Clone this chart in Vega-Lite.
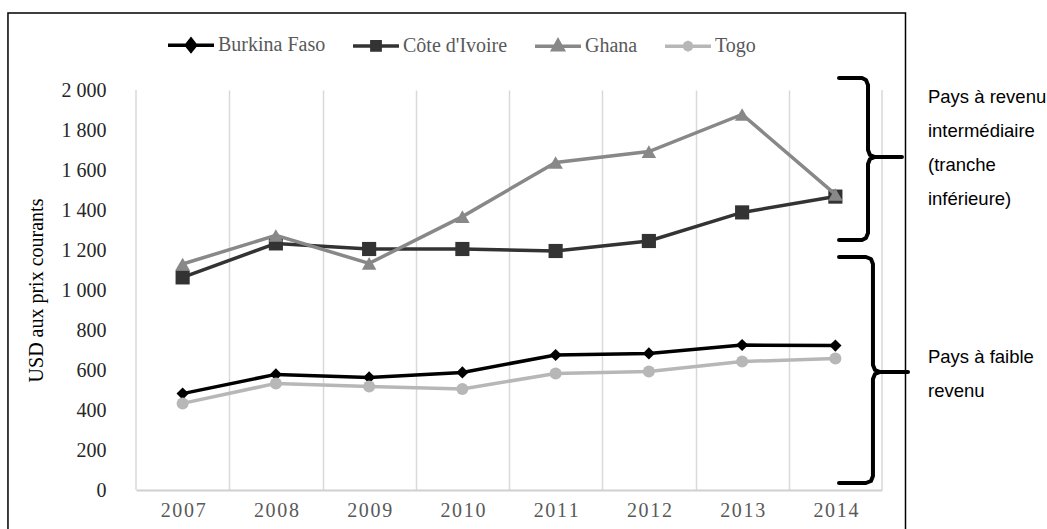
{
  "$schema": "https://vega.github.io/schema/vega-lite/v6.json",
  "autosize": "none",
  "width": 746,
  "height": 400,
  "padding": {"left": 136, "top": 90, "right": 165, "bottom": 39},
  "background": "#ffffff",
  "config": {
    "view": {"stroke": null},
    "font": "Liberation Serif"
  },
  "datasets": {
    "pib": [
      {"annee": 2007, "pays": "Burkina Faso", "usd": 482},
      {"annee": 2008, "pays": "Burkina Faso", "usd": 578},
      {"annee": 2009, "pays": "Burkina Faso", "usd": 563},
      {"annee": 2010, "pays": "Burkina Faso", "usd": 588},
      {"annee": 2011, "pays": "Burkina Faso", "usd": 675},
      {"annee": 2012, "pays": "Burkina Faso", "usd": 683},
      {"annee": 2013, "pays": "Burkina Faso", "usd": 725},
      {"annee": 2014, "pays": "Burkina Faso", "usd": 722},
      {"annee": 2007, "pays": "Côte d'Ivoire", "usd": 1063},
      {"annee": 2008, "pays": "Côte d'Ivoire", "usd": 1233},
      {"annee": 2009, "pays": "Côte d'Ivoire", "usd": 1205},
      {"annee": 2010, "pays": "Côte d'Ivoire", "usd": 1205},
      {"annee": 2011, "pays": "Côte d'Ivoire", "usd": 1195},
      {"annee": 2012, "pays": "Côte d'Ivoire", "usd": 1245},
      {"annee": 2013, "pays": "Côte d'Ivoire", "usd": 1388},
      {"annee": 2014, "pays": "Côte d'Ivoire", "usd": 1467},
      {"annee": 2007, "pays": "Ghana", "usd": 1130},
      {"annee": 2008, "pays": "Ghana", "usd": 1273},
      {"annee": 2009, "pays": "Ghana", "usd": 1133},
      {"annee": 2010, "pays": "Ghana", "usd": 1367},
      {"annee": 2011, "pays": "Ghana", "usd": 1638},
      {"annee": 2012, "pays": "Ghana", "usd": 1692},
      {"annee": 2013, "pays": "Ghana", "usd": 1878},
      {"annee": 2014, "pays": "Ghana", "usd": 1478},
      {"annee": 2007, "pays": "Togo", "usd": 433},
      {"annee": 2008, "pays": "Togo", "usd": 533},
      {"annee": 2009, "pays": "Togo", "usd": 517},
      {"annee": 2010, "pays": "Togo", "usd": 505},
      {"annee": 2011, "pays": "Togo", "usd": 583},
      {"annee": 2012, "pays": "Togo", "usd": 592},
      {"annee": 2013, "pays": "Togo", "usd": 642},
      {"annee": 2014, "pays": "Togo", "usd": 658}
    ],
    "accolades": [
      {"accolade": "intermediaire", "ordre": 1, "annee": 2014.039, "usd": 2060},
      {"accolade": "intermediaire", "ordre": 2, "annee": 2014.286, "usd": 2060},
      {"accolade": "intermediaire", "ordre": 3, "annee": 2014.328, "usd": 2050},
      {"accolade": "intermediaire", "ordre": 4, "annee": 2014.350, "usd": 2025},
      {"accolade": "intermediaire", "ordre": 5, "annee": 2014.350, "usd": 1700},
      {"accolade": "intermediaire", "ordre": 6, "annee": 2014.371, "usd": 1675},
      {"accolade": "intermediaire", "ordre": 7, "annee": 2014.425, "usd": 1665},
      {"accolade": "intermediaire", "ordre": 8, "annee": 2014.714, "usd": 1665},
      {"accolade": "intermediaire", "ordre": 9, "annee": 2014.425, "usd": 1665},
      {"accolade": "intermediaire", "ordre": 10, "annee": 2014.371, "usd": 1655},
      {"accolade": "intermediaire", "ordre": 11, "annee": 2014.350, "usd": 1630},
      {"accolade": "intermediaire", "ordre": 12, "annee": 2014.350, "usd": 1285},
      {"accolade": "intermediaire", "ordre": 13, "annee": 2014.328, "usd": 1260},
      {"accolade": "intermediaire", "ordre": 14, "annee": 2014.286, "usd": 1250},
      {"accolade": "intermediaire", "ordre": 15, "annee": 2014.039, "usd": 1250},
      {"accolade": "faible", "ordre": 1, "annee": 2014.039, "usd": 1165},
      {"accolade": "faible", "ordre": 2, "annee": 2014.328, "usd": 1165},
      {"accolade": "faible", "ordre": 3, "annee": 2014.382, "usd": 1155},
      {"accolade": "faible", "ordre": 4, "annee": 2014.403, "usd": 1130},
      {"accolade": "faible", "ordre": 5, "annee": 2014.403, "usd": 625},
      {"accolade": "faible", "ordre": 6, "annee": 2014.425, "usd": 600},
      {"accolade": "faible", "ordre": 7, "annee": 2014.479, "usd": 590},
      {"accolade": "faible", "ordre": 8, "annee": 2014.779, "usd": 590},
      {"accolade": "faible", "ordre": 9, "annee": 2014.479, "usd": 590},
      {"accolade": "faible", "ordre": 10, "annee": 2014.425, "usd": 580},
      {"accolade": "faible", "ordre": 11, "annee": 2014.403, "usd": 555},
      {"accolade": "faible", "ordre": 12, "annee": 2014.403, "usd": 70},
      {"accolade": "faible", "ordre": 13, "annee": 2014.382, "usd": 45},
      {"accolade": "faible", "ordre": 14, "annee": 2014.328, "usd": 35},
      {"accolade": "faible", "ordre": 15, "annee": 2014.039, "usd": 35}
    ],
    "groupes": [
      {"annee": 2014.993, "usd": 1935, "libelle": "Pays à revenu\nintermédiaire\n(tranche\ninférieure)"},
      {"annee": 2014.993, "usd": 635, "libelle": "Pays à faible\nrevenu"}
    ]
  },
  "layer": [
    {
      "data": {"name": "pib"},
      "transform": [{"filter": "datum.pays === 'Burkina Faso'"}],
      "mark": {"type": "line", "strokeWidth": 3.5, "color": "#000000", "point": {"shape": "diamond", "filled": true, "opacity": 1, "size": 150, "color": "#000000"}},
      "encoding": {
        "x": {
          "field": "annee",
          "type": "quantitative",
          "scale": {"domain": [2006.5, 2014.5], "nice": false, "zero": false},
          "axis": {
            "title": null,
            "values": [2007, 2007.5, 2008, 2008.5, 2009, 2009.5, 2010, 2010.5, 2011, 2011.5, 2012, 2012.5, 2013, 2013.5, 2014],
            "tickCount": 40,
            "labelExpr": "datum.value % 1 === 0 ? substring(datum.label, 0, 1) + '\u200a' + substring(datum.label, 1, 2) + '\u200a' + substring(datum.label, 2, 3) + '\u200a' + substring(datum.label, 3, 4) : ''",
            "format": "04d",
            "labelOverlap": false,
            "labelFlush": false,
            "labelBound": false,
            "labelFont": "Liberation Serif",
            "labelFontSize": 20,
            "labelColor": "#595959",
            "labelPadding": 10,
            "ticks": false,
            "grid": true,
            "gridColor": "#d9d9d9",
            "gridWidth": 1.5,
            "gridOpacity": {"condition": {"test": "datum.value % 1 === 0", "value": 0}, "value": 1},
            "domainColor": "#d0d0d0",
            "domainWidth": 2
          }
        },
        "y": {
          "field": "usd",
          "type": "quantitative",
          "scale": {"domain": [0, 2000], "nice": false},
          "axis": {
            "title": "USD aux prix courants",
            "titleFont": "Liberation Serif",
            "titleFontSize": 20,
            "titleFontWeight": "normal",
            "titleColor": "#000000",
            "titlePadding": 15,
            "values": [0, 200, 400, 600, 800, 1000, 1200, 1400, 1600, 1800, 2000],
            "tickCount": 20,
            "labelExpr": "replace(format(datum.value, ','), ',', ' ')",
            "labelOverlap": false,
            "labelFont": "Liberation Serif",
            "labelFontSize": 20,
            "labelColor": "#262626",
            "labelPadding": 30,
            "ticks": false,
            "domain": false,
            "grid": false
          }
        }
      }
    },
    {
      "data": {"values": [{"bord": "gauche"}]},
      "mark": {"type": "rule", "color": "#d9d9d9", "strokeWidth": 1.5},
      "encoding": {
        "x": {"datum": 2006.5, "type": "quantitative", "title": null},
        "y": {"datum": 0, "type": "quantitative", "title": "USD aux prix courants"},
        "y2": {"datum": 2000}
      }
    },
    {
      "data": {"values": [{"bord": "droite"}]},
      "mark": {"type": "rule", "color": "#d9d9d9", "strokeWidth": 1.5},
      "encoding": {
        "x": {"datum": 2014.5, "type": "quantitative", "title": null},
        "y": {"datum": 0, "type": "quantitative", "title": "USD aux prix courants"},
        "y2": {"datum": 2000}
      }
    },
    {
      "data": {"values": [{"cadre": "bordure"}]},
      "mark": {"type": "rect", "filled": false, "color": "#000000", "strokeWidth": 1.5},
      "encoding": {
        "x": {"datum": 2005.127, "type": "quantitative", "title": null},
        "x2": {"datum": 2014.752},
        "y": {"datum": 2385, "type": "quantitative", "title": "USD aux prix courants"},
        "y2": {"datum": -300}
      }
    },
    {
      "data": {"name": "pib"},
      "transform": [{"filter": "datum.pays === \"Côte d'Ivoire\""}],
      "mark": {"type": "line", "strokeWidth": 3.5, "color": "#333333", "point": {"shape": "square", "filled": true, "opacity": 1, "size": 200, "color": "#333333"}},
      "encoding": {
        "x": {"field": "annee", "type": "quantitative", "title": null},
        "y": {"field": "usd", "type": "quantitative", "title": "USD aux prix courants"}
      }
    },
    {
      "data": {"name": "pib"},
      "transform": [{"filter": "datum.pays === 'Ghana'"}],
      "mark": {"type": "line", "strokeWidth": 3.5, "color": "#888888", "point": {"shape": "triangle-up", "filled": true, "opacity": 1, "size": 210, "color": "#888888"}},
      "encoding": {
        "x": {"field": "annee", "type": "quantitative", "title": null},
        "y": {"field": "usd", "type": "quantitative", "title": "USD aux prix courants"}
      }
    },
    {
      "data": {"name": "pib"},
      "transform": [{"filter": "datum.pays === 'Togo'"}],
      "mark": {"type": "line", "strokeWidth": 3.5, "color": "#b7b7b7", "point": {"shape": "circle", "filled": true, "opacity": 1, "size": 145, "color": "#b7b7b7"}},
      "encoding": {
        "x": {"field": "annee", "type": "quantitative", "title": null},
        "y": {"field": "usd", "type": "quantitative", "title": "USD aux prix courants"}
      }
    },
    {
      "data": {"name": "pib"},
      "transform": [{"filter": "datum.annee < 0"}],
      "mark": {"type": "point", "filled": false, "opacity": 1, "strokeWidth": 3.5},
      "encoding": {
        "x": {"field": "annee", "type": "quantitative", "title": null},
        "y": {"field": "usd", "type": "quantitative", "title": "USD aux prix courants"},
        "color": {
          "field": "pays",
          "type": "nominal",
          "title": null,
          "scale": {"domain": ["Burkina Faso", "Côte d'Ivoire", "Ghana", "Togo"], "range": ["#000000", "#333333", "#888888", "#b7b7b7"]},
          "legend": {
            "orient": "none",
            "direction": "horizontal",
            "legendX": 30,
            "legendY": -70,
            "title": null,
            "symbolSize": 2116,
            "symbolStrokeWidth": 3.5,
            "labelFont": "Liberation Serif",
            "labelFontSize": 20,
            "labelColor": "#595959",
            "labelOffset": 2,
            "columnPadding": 20
          }
        },
        "shape": {
          "field": "pays",
          "type": "nominal",
          "title": null,
          "scale": {
            "domain": ["Burkina Faso", "Côte d'Ivoire", "Ghana", "Togo"],
            "range": [
              "M-1,0L1,0M0,-0.25L0.2,0L0,0.25L-0.2,0ZM0,-0.25L0,0.25",
              "M-1,0L1,0M-0.18,-0.18L0.18,-0.18L0.18,0.18L-0.18,0.18ZM0,-0.18L0,0.18M-0.18,-0.09L0.18,-0.09M-0.18,0.09L0.18,0.09",
              "M-1,0L1,0M0,-0.24L0.22,0.16L-0.22,0.16ZM0,-0.24L0,0.16",
              "M-1,0L1,0M-0.16,0L-0.113,-0.113L0,-0.16L0.113,-0.113L0.16,0L0.113,0.113L0,0.16L-0.113,0.113ZM0,-0.16L0,0.16"
            ]
          }
        }
      }
    },
    {
      "data": {"name": "accolades"},
      "mark": {"type": "line", "color": "#000000", "strokeWidth": 4, "strokeCap": "round", "strokeJoin": "round"},
      "encoding": {
        "x": {"field": "annee", "type": "quantitative", "title": null},
        "y": {"field": "usd", "type": "quantitative", "title": "USD aux prix courants"},
        "detail": {"field": "accolade"},
        "order": {"field": "ordre", "type": "quantitative"}
      }
    },
    {
      "data": {"name": "groupes"},
      "mark": {"type": "text", "align": "left", "baseline": "alphabetic", "lineBreak": "\n", "lineHeight": 34, "font": "Liberation Sans", "fontSize": 18.5, "color": "#000000"},
      "encoding": {
        "x": {"field": "annee", "type": "quantitative", "title": null},
        "y": {"field": "usd", "type": "quantitative", "title": "USD aux prix courants"},
        "text": {"field": "libelle"}
      }
    }
  ]
}
